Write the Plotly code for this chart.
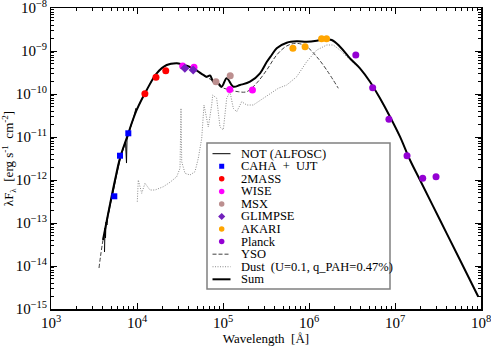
import plotly.graph_objects as go

# ---------------- data ----------------
# NOT (ALFOSC) optical spectrum
not_wl = [4190, 4246, 4303, 4361, 4479, 4600, 4722, 4853, 5121, 5403, 5700, 6013, 6343,
          6693, 7061, 7350, 7550, 7650, 7860, 8070, 8400, 8630, 8985, 9230, 9480, 9735]
not_flux = [2.12e-14, 7.66e-14, 4.48e-14, 1.05e-13, 8.98e-14, 1.62e-13, 1.80e-13, 2.48e-13,
            3.81e-13, 6.52e-13, 1.11e-12, 1.90e-12, 2.92e-12, 4.25e-12, 5.85e-12, 7.66e-12,
            2.48e-12, 8.51e-12, 1.05e-11, 1.31e-11, 1.62e-11, 2.00e-11, 2.48e-11, 3.07e-11,
            3.81e-11, 4.72e-11]

# photometry
caha_wl = [5445, 6340, 7925]
caha_flux = [4.18e-13, 3.67e-12, 1.22e-11]

tmass_wl = [12350, 16620, 21590]
tmass_flux = [1.02e-10, 2.44e-10, 3.48e-10]

wise_wl = [34000, 46000, 120000, 220000]
wise_flux = [4.48e-10, 4.18e-10, 1.28e-10, 1.24e-10]

msx_wl = [82800, 121300]
msx_flux = [1.93e-10, 2.67e-10]

glimpse_wl = [36000, 45000]
glimpse_flux = [3.98e-10, 3.61e-10]

akari_wl = [650000, 900000, 1400000, 1600000]
akari_flux = [1.16e-9, 1.26e-9, 1.93e-9, 1.93e-9]

planck_wl = [3.5e6, 5.5e6, 8.5e6, 1.38e7, 2.1e7, 3.0e7]
planck_flux = [8.07e-10, 1.40e-10, 2.58e-11, 3.67e-12, 1.10e-12, 1.19e-12]

# models
yso_wl = [3615, 4024, 5549, 6343, 7590, 9920, 12970, 16950, 22150, 28940, 33110, 45150,
          59020, 70630, 84460, 92270, 120600, 150600, 188600, 246600, 322200, 421100,
          550700, 719500, 940400, 1.229e6, 1.607e6, 2.191e6]
yso_flux = [8.97e-15, 4.03e-14, 1.0e-12, 3.25e-12, 9.48e-12, 4.25e-11, 1.24e-10, 3.03e-10,
            4.72e-10, 5.17e-10, 4.88e-10, 3.9e-10, 2.69e-10, 2.23e-10, 1.77e-10, 1.48e-10,
            1.24e-10, 1.13e-10, 1.13e-10, 1.80e-10, 3.61e-10, 8.07e-10, 1.31e-9, 1.51e-9,
            1.26e-9, 7.36e-10, 3.61e-10, 1.36e-10]

dust_wl = [10080, 10350, 11340, 12390, 14160, 16200, 20220, 24200, 28940, 31620, 32480,
           33110, 36150, 41330, 47250, 51620, 56550, 60130, 63430, 67470, 73890, 75900,
           84460, 92270, 100800, 110400, 120600, 131800, 144300, 165000, 188600, 225100,
           294200, 439500, 550700, 719500, 940400, 1.229e6, 1.607e6, 1.917e6, 2.294e6,
           2.997e6, 3.917e6, 5.12e6, 6.69e6, 8.75e6, 1.143e7, 1.494e7, 1.953e7, 3.336e7,
           5.70e7, 9.30e7]
dust_flux = [3.13e-13, 1.0e-12, 4.91e-13, 8.38e-13, 5.85e-13, 5.85e-13, 6.98e-13, 8.85e-13,
             1.19e-12, 1.87e-12, 4.65e-11, 2.67e-12, 1.43e-12, 1.31e-12, 1.56e-12, 3.20e-12,
             9.33e-12, 5.55e-11, 3.25e-11, 1.71e-11, 5.55e-11, 9.48e-11, 7.94e-11, 1.71e-11,
             1.46e-11, 7.94e-11, 1.13e-10, 4.65e-11, 3.87e-11, 6.62e-11, 5.55e-11, 5.55e-11,
             7.94e-11, 1.36e-10, 1.62e-10, 2.52e-10, 5.64e-10, 1.05e-9, 1.38e-9, 1.38e-9,
             1.05e-9, 6.2e-10, 3.9e-10, 1.9e-10, 7.8e-11, 2.9e-11, 1.0e-11, 2.9e-12, 1.0e-12,
             1.15e-13, 1.36e-14, 1.9e-15]

sum_wl = [4024, 5549, 6343, 7590, 9920, 12970, 16950, 22150, 28940, 33110, 45150, 59020,
          64640, 70630, 77150, 88150, 96580, 110400, 131800, 157700, 206100, 269300, 322200,
          368400, 421100, 550700, 719500, 940400, 1.229e6, 1.467e6, 1.837e6, 2.294e6,
          2.997e6, 3.917e6, 5.12e6, 6.69e6, 8.75e6, 1.143e7, 1.494e7, 1.953e7, 3.336e7,
          5.70e7, 9.30e7]
sum_flux = [4.03e-14, 1.0e-12, 3.25e-12, 9.48e-12, 4.25e-11, 1.24e-10, 3.03e-10, 4.72e-10,
            5.17e-10, 4.91e-10, 3.96e-10, 2.77e-10, 2.52e-10, 2.69e-10, 1.93e-10, 1.77e-10,
            1.48e-10, 2.32e-10, 1.48e-10, 1.62e-10, 1.93e-10, 3.03e-10, 5.54e-10, 8.07e-10,
            1.16e-9, 1.56e-9, 1.68e-9, 1.64e-9, 1.74e-9, 1.87e-9, 1.80e-9, 1.26e-9, 6.76e-10,
            3.96e-10, 1.93e-10, 7.94e-11, 2.96e-11, 1.02e-11, 2.92e-12, 1.0e-12, 1.17e-13,
            1.38e-14, 1.93e-15]

legend_labels = ["NOT (ALFOSC)", "CAHA  +  UJT", "2MASS", "WISE", "MSX", "GLIMPSE", "AKARI",
                 "Planck", "YSO", "Dust  (U=0.1, q_PAH=0.47%)", "Sum"]

# ---------------- styling ----------------
FONT = "Liberation Serif"
W, H = 491, 346
ML, MR, MT, MB = 51, 10, 8, 37
PW, PH = W - ML - MR, H - MT - MB

C_CAHA = "#0000ff"
C_2MASS = "#ff0000"
C_WISE = "#ff00ff"
C_MSX = "#bc8f8f"
C_GLIMPSE = "#7221bc"
C_AKARI = "#ffa500"
C_PLANCK = "#9400d3"

fig = go.Figure()

def line_trace(x, y, color, width, dash="solid", shape="linear", xa="x", ya="y"):
    return go.Scatter(x=x, y=y, mode="lines", xaxis=xa, yaxis=ya, showlegend=False,
                      line=dict(color=color, width=width, dash=dash, shape=shape),
                      hoverinfo="skip")

def mark_trace(x, y, color, symbol, size, xa="x", ya="y"):
    return go.Scatter(x=x, y=y, mode="markers", xaxis=xa, yaxis=ya, showlegend=False,
                      marker=dict(color=color, symbol=symbol, size=size, line=dict(width=0)),
                      hoverinfo="skip")

fig.add_trace(line_trace(dust_wl, dust_flux, "#8a8a8a", 1.0, "1px,1.5px"))
fig.add_trace(line_trace(yso_wl, yso_flux, "#404040", 1.0, "4px,2px", "spline"))
fig.add_trace(line_trace(not_wl, not_flux, "#000000", 1.0))
fig.add_trace(line_trace(sum_wl, sum_flux, "#000000", 2.0, "solid", "spline"))

fig.add_trace(mark_trace(caha_wl, caha_flux, C_CAHA, "square", 6))
fig.add_trace(mark_trace(tmass_wl, tmass_flux, C_2MASS, "circle", 7))
fig.add_trace(mark_trace(wise_wl, wise_flux, C_WISE, "circle", 7))
fig.add_trace(mark_trace(msx_wl, msx_flux, C_MSX, "circle", 7))
fig.add_trace(mark_trace(glimpse_wl, glimpse_flux, C_GLIMPSE, "diamond", 7))
fig.add_trace(mark_trace(akari_wl, akari_flux, C_AKARI, "circle", 7))
fig.add_trace(mark_trace(planck_wl, planck_flux, C_PLANCK, "circle", 7))

# ---------------- custom legend (overlay axes in 0..1 units) ----------------
def px_x(p):
    return (p - ML) / PW

def px_y(p):
    return (H - MB - p) / PH

rows = [px_y(153.7 + 12.56 * i) for i in range(len(legend_labels))]
sx0, sx1, sxm = px_x(212.5), px_x(230.5), px_x(221.7)

fig.add_trace(line_trace([sx0, sx1], [rows[0]] * 2, "#000000", 1.0, xa="x2", ya="y2"))
sym = [(C_CAHA, "square", 5), (C_2MASS, "circle", 5.5), (C_WISE, "circle", 5.5),
       (C_MSX, "circle", 5.5), (C_GLIMPSE, "diamond", 5.5), (C_AKARI, "circle", 5.5),
       (C_PLANCK, "circle", 5.5)]
for i, (c, s, sz) in enumerate(sym, start=1):
    fig.add_trace(mark_trace([sxm], [rows[i]], c, s, sz, xa="x2", ya="y2"))
fig.add_trace(line_trace([sx0, sx1], [rows[8]] * 2, "#404040", 1.0, "4px,2px", xa="x2", ya="y2"))
fig.add_trace(line_trace([sx0, sx1], [rows[9]] * 2, "#8a8a8a", 1.0, "1px,1.5px", xa="x2", ya="y2"))
fig.add_trace(line_trace([sx0, sx1], [rows[10]] * 2, "#000000", 2.0, xa="x2", ya="y2"))

annotations = []
for lab, ry in zip(legend_labels, rows):
    annotations.append(dict(x=px_x(239.5), y=ry, xref="paper", yref="paper",
                            text=lab.replace(" ", "\u00a0"), showarrow=False,
                            xanchor="left", yanchor="middle", borderpad=0,
                            font=dict(family=FONT, size=12.5, color="black")))

shapes = [dict(type="rect", xref="paper", yref="paper",
               x0=px_x(207), x1=px_x(390), y0=px_y(289), y1=px_y(143),
               line=dict(color="#808080", width=1.5), fillcolor="white", layer="below")]

axis_common = dict(
    type="log", dtick=1, exponentformat="power", showgrid=False, zeroline=False,
    showline=True, linecolor="black", linewidth=1.5, mirror="ticks", automargin=False,
    ticks="inside", ticklen=6, tickwidth=1, tickcolor="black", ticklabeloverflow="allow",
    minor=dict(ticks="inside", ticklen=3, tickwidth=1, tickcolor="black", dtick="D1",
               showgrid=False),
    tickfont=dict(family=FONT, size=12, color="black"),
)

hidden = dict(range=[0, 1], visible=False, automargin=False, showgrid=False,
              zeroline=False, showticklabels=False, ticks="")

fig.update_layout(
    width=W, height=H,
    margin=dict(l=ML, r=MR, t=MT, b=MB, autoexpand=False),
    paper_bgcolor="white", plot_bgcolor="white",
    font=dict(family=FONT, size=13, color="black"),
    showlegend=False,
    xaxis=dict(range=[3, 8], title=dict(text="Wavelength\u00a0\u00a0[Å]", standoff=2,
                                        font=dict(family=FONT, size=13)), **axis_common),
    yaxis=dict(range=[-15, -8],
               title=dict(text="λF<sub>λ</sub>\u00a0\u00a0[erg\u00a0s<sup>-1</sup>\u00a0\u00a0cm<sup>-2</sup>]",
                          standoff=4, font=dict(family=FONT, size=13)), **axis_common),
    xaxis2=dict(overlaying="x", anchor="y2", **hidden),
    yaxis2=dict(overlaying="y", anchor="x2", **hidden),
    annotations=annotations,
    shapes=shapes,
)

fig.write_html("out.html", config={"displayModeBar": False, "staticPlot": True},
               post_script="document.body.style.margin='0';document.body.style.padding='0';"
                           "document.body.style.overflow='hidden';"
                           "document.documentElement.style.overflow='hidden';")
